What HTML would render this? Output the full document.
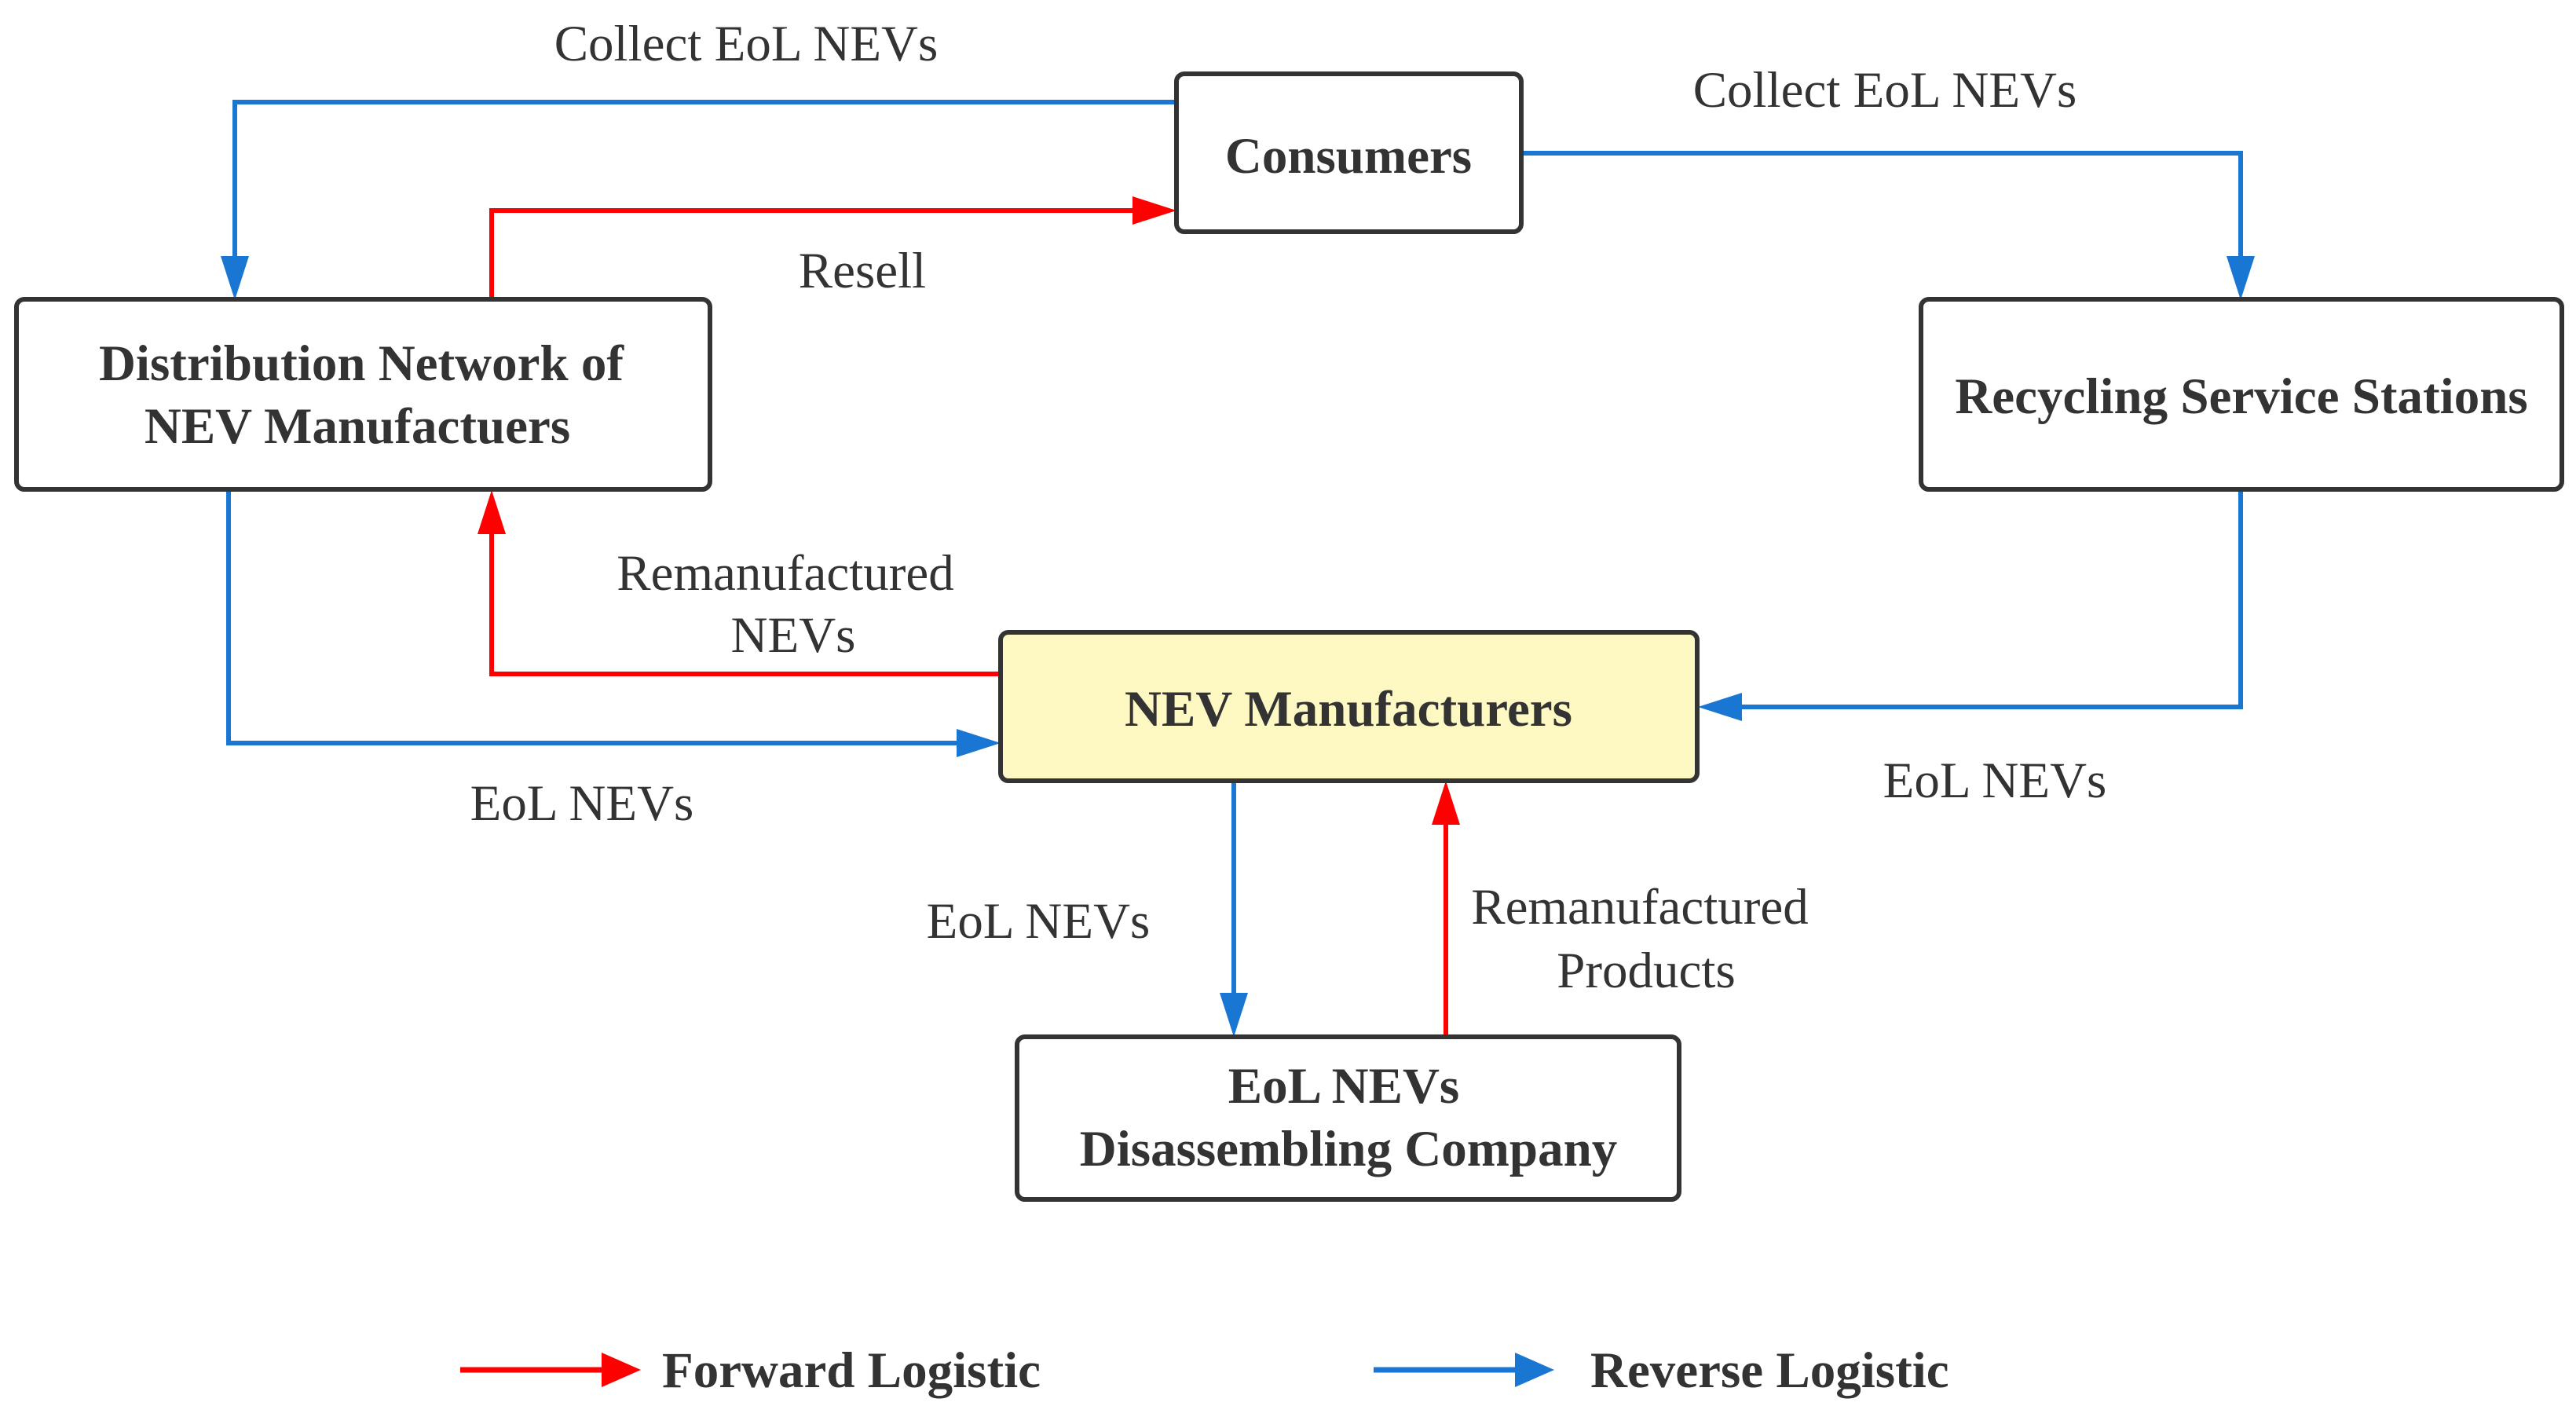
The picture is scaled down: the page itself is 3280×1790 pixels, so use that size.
<!DOCTYPE html>
<html><head><meta charset="utf-8"><style>
html,body{margin:0;padding:0;background:#fff;}
svg{display:block;}
text{font-family:"Liberation Serif",serif;fill:#333;}
.b{font-weight:bold;font-size:65px;}
.n{font-size:65px;}
</style></head><body>
<svg width="3280" height="1790" viewBox="0 0 3280 1790" xmlns="http://www.w3.org/2000/svg">
<g fill="none" stroke-width="6">
<polyline points="1498,130 299,130 299,330" stroke="#1976d2"/>
<polygon points="281,326 317,326 299,382" fill="#1976d2" stroke="none"/>
<polyline points="626,381 626,268 1445,268" stroke="#ff0000"/>
<polygon points="1442,250 1442,286 1498,268" fill="#ff0000" stroke="none"/>
<polyline points="1937,195 2853,195 2853,330" stroke="#1976d2"/>
<polygon points="2835,326 2871,326 2853,382" fill="#1976d2" stroke="none"/>
<polyline points="2853,623 2853,900 2215,900" stroke="#1976d2"/>
<polygon points="2218,882 2218,918 2162,900" fill="#1976d2" stroke="none"/>
<polyline points="1274,858 626,858 626,676" stroke="#ff0000"/>
<polygon points="608,680 644,680 626,624" fill="#ff0000" stroke="none"/>
<polyline points="291,623 291,946 1222,946" stroke="#1976d2"/>
<polygon points="1218,928 1218,964 1274,946" fill="#1976d2" stroke="none"/>
<polyline points="1571,994 1571,1268" stroke="#1976d2"/>
<polygon points="1553,1264 1589,1264 1571,1320" fill="#1976d2" stroke="none"/>
<polyline points="1841,1320 1841,1046" stroke="#ff0000"/>
<polygon points="1823,1050 1859,1050 1841,994" fill="#ff0000" stroke="none"/>
<line x1="586" y1="1744" x2="770" y2="1744" stroke="#ff0000" stroke-width="7"/>
<polygon points="766,1722 766,1766 816,1744" fill="#ff0000" stroke="none"/>
<line x1="1749" y1="1744" x2="1933" y2="1744" stroke="#1976d2" stroke-width="7"/>
<polygon points="1929,1722 1929,1766 1979,1744" fill="#1976d2" stroke="none"/>
</g>
<g stroke="#333" stroke-width="6">
<rect x="1498" y="94" width="439" height="201" rx="10" fill="#fff"/>
<rect x="21" y="381" width="883" height="242" rx="10" fill="#fff"/>
<rect x="2446" y="381" width="816" height="242" rx="10" fill="#fff"/>
<rect x="1274" y="805" width="887" height="189" rx="10" fill="#fef8c2"/>
<rect x="1295" y="1320" width="843" height="207" rx="10" fill="#fff"/>
</g>
<g text-anchor="middle">
<text class="b" x="1717" y="220">Consumers</text>
<text class="b" x="460" y="484">Distribution Network of</text>
<text class="b" x="455" y="564">NEV Manufactuers</text>
<text class="b" x="2854" y="526">Recycling Service Stations</text>
<text class="b" x="1717" y="924">NEV Manufacturers</text>
<text class="b" x="1711" y="1404">EoL NEVs</text>
<text class="b" x="1717" y="1484">Disassembling Company</text>
<text class="n" x="950" y="77">Collect EoL NEVs</text>
<text class="n" x="2400" y="136">Collect EoL NEVs</text>
<text class="n" x="1098" y="366">Resell</text>
<text class="n" x="1000" y="751">Remanufactured</text>
<text class="n" x="1010" y="830">NEVs</text>
<text class="n" x="741" y="1044">EoL NEVs</text>
<text class="n" x="2540" y="1015">EoL NEVs</text>
<text class="n" x="1322" y="1194">EoL NEVs</text>
<text class="n" x="2088" y="1176">Remanufactured</text>
<text class="n" x="2096" y="1257">Products</text>
</g>
<text class="b" x="843" y="1766">Forward Logistic</text>
<text class="b" x="2025" y="1766">Reverse Logistic</text>
</svg>
</body></html>
